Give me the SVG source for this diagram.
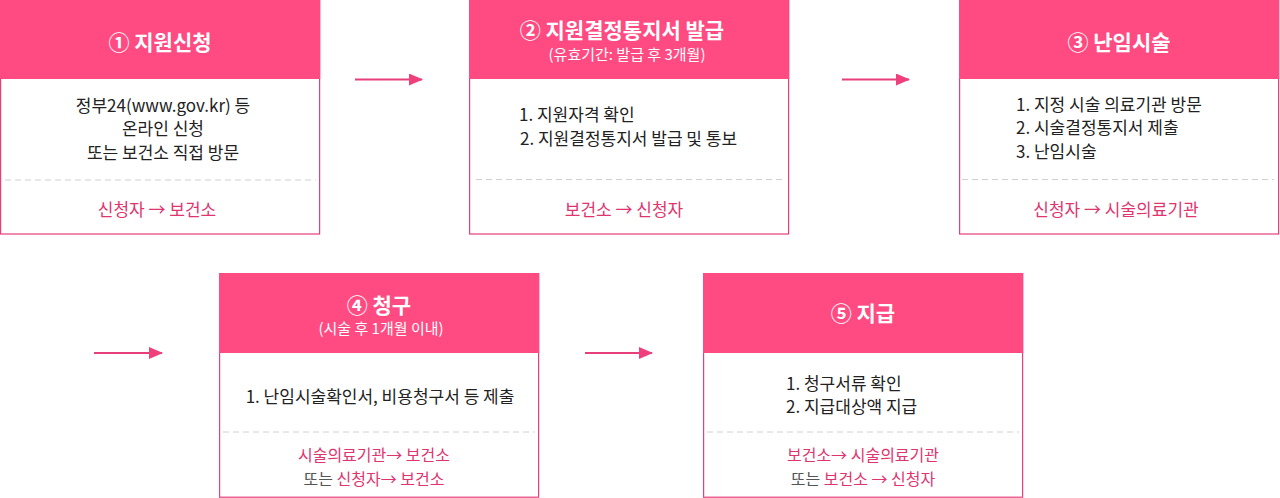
<svg xmlns="http://www.w3.org/2000/svg" width="1280" height="498" viewBox="0 0 1280 498">
<defs>
<style>
.box{fill:#fff;stroke:#E63F7A;stroke-width:1.2}
.hdr{fill:#FF4A82}
.dash{stroke:#D0D0D0;stroke-width:1;stroke-dasharray:6 4}
text{font-family:"Noto Sans CJK KR","Noto Sans",sans-serif;dominant-baseline:central}
.t{fill:#fff;font-size:21px;font-weight:700;text-anchor:middle}
.st{fill:#fff;font-size:15px;text-anchor:middle}
.b{fill:#222;font-size:17px}
.c{text-anchor:middle}
.f{fill:#E0346F;font-size:17px;text-anchor:middle}
.f2{font-size:16px}
.g{fill:#555}
.conn{stroke:#E63F7A;stroke-width:2.2;fill:none}
</style>
<marker id="ah" markerWidth="14" markerHeight="12" refX="13" refY="6" orient="auto" markerUnits="userSpaceOnUse">
<path d="M0,0 L14,6 L0,12 Z" fill="#F0407C"/>
</marker>
</defs>
<g id="connectors">
<line class="conn" x1="355" y1="79.5" x2="422" y2="79.5" marker-end="url(#ah)"/>
<line class="conn" x1="842" y1="79.5" x2="909" y2="79.5" marker-end="url(#ah)"/>
<line class="conn" x1="94" y1="353" x2="162" y2="353" marker-end="url(#ah)"/>
<line class="conn" x1="585" y1="353" x2="652" y2="353" marker-end="url(#ah)"/>
</g>
<g id="node1">
<rect class="box" x="0.6" y="0.6" width="319" height="233.4"/>
<rect class="hdr" x="0" y="0" width="320.2" height="79"/>
<text class="t" x="160" y="41">① 지원신청</text>
<text class="b c" x="163" y="104">정부24(www.gov.kr) 등</text>
<text class="b c" x="163" y="127">온라인 신청</text>
<text class="b c" x="163" y="151">또는 보건소 직접 방문</text>
<line class="dash" x1="5" y1="180" x2="316" y2="180"/>
<text class="f" x="157" y="208">신청자 → 보건소</text>
</g>
<g id="node2">
<rect class="box" x="469.6" y="0.6" width="319" height="233.4"/>
<rect class="hdr" x="469" y="0" width="320.2" height="79"/>
<text class="t" x="622" y="29">② 지원결정통지서 발급</text>
<text class="st" x="627" y="53">(유효기간: 발급 후 3개월)</text>
<text class="b" x="519" y="113">1. 지원자격 확인</text>
<text class="b" x="520" y="137">2. 지원결정통지서 발급 및 통보</text>
<line class="dash" x1="476" y1="179.5" x2="786" y2="179.5"/>
<text class="f" x="624" y="208">보건소 → 신청자</text>
</g>
<g id="node3">
<rect class="box" x="959.6" y="0.6" width="319" height="233.4"/>
<rect class="hdr" x="959" y="0" width="320.2" height="79"/>
<text class="t" x="1119" y="41">③ 난임시술</text>
<text class="b" x="1016" y="103">1. 지정 시술 의료기관 방문</text>
<text class="b" x="1016" y="126">2. 시술결정통지서 제출</text>
<text class="b" x="1016" y="150">3. 난임시술</text>
<line class="dash" x1="962" y1="179.5" x2="1274" y2="179.5"/>
<text class="f" x="1116" y="208">신청자 → 시술의료기관</text>
</g>
<g id="node4">
<rect class="box" x="219.6" y="273.6" width="319" height="223.6"/>
<rect class="hdr" x="219" y="273" width="320.2" height="80"/>
<text class="t" x="379" y="304">④ 청구</text>
<text class="st" x="381" y="327">(시술 후 1개월 이내)</text>
<text class="b c" x="380" y="395">1. 난임시술확인서, 비용청구서 등 제출</text>
<line class="dash" x1="223" y1="432" x2="535" y2="432"/>
<text class="f f2" x="374" y="453.5">시술의료기관→ 보건소</text>
<text class="f f2" x="374" y="477.5"><tspan class="g">또는 </tspan>신청자→ 보건소</text>
</g>
<g id="node5">
<rect class="box" x="703.6" y="273.6" width="319" height="223.6"/>
<rect class="hdr" x="703" y="273" width="320.2" height="80"/>
<text class="t" x="863" y="312">⑤ 지급</text>
<text class="b" x="786" y="382">1. 청구서류 확인</text>
<text class="b" x="786" y="405">2. 지급대상액 지급</text>
<line class="dash" x1="707" y1="432" x2="1019" y2="432"/>
<text class="f f2" x="863" y="453.5">보건소→ 시술의료기관</text>
<text class="f f2" x="863" y="477.5"><tspan class="g">또는 </tspan>보건소 → 신청자</text>
</g>
</svg>
